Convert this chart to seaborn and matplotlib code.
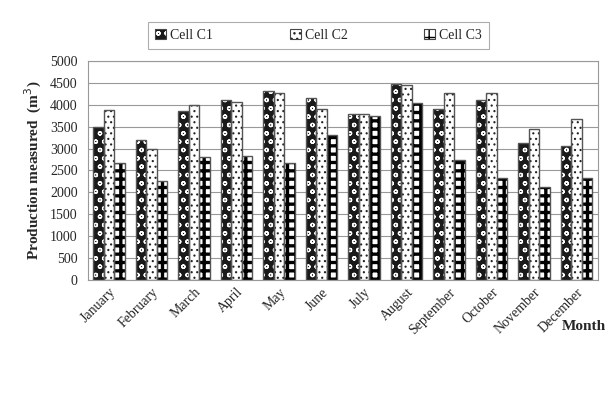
import pandas as pd
import seaborn as sns
import matplotlib.pyplot as plt
from matplotlib.patches import Patch, Rectangle
from matplotlib.legend_handler import HandlerTuple

# Data
months = ["January", "February", "March", "April", "May", "June", "July",
          "August", "September", "October", "November", "December"]
cell_c1 = [3500, 3200, 3850, 4120, 4320, 4150, 3790, 4480, 3900, 4120, 3130, 3060]
cell_c2 = [3870, 3000, 4000, 4060, 4260, 3900, 3790, 4460, 4260, 4260, 3440, 3680]
cell_c3 = [2680, 2250, 2800, 2840, 2680, 3300, 3740, 4050, 2740, 2320, 2130, 2320]
series = ["Cell C1", "Cell C2", "Cell C3"]

df = pd.DataFrame({
    "Month": months * 3,
    "Cell": [s for s in series for _ in months],
    "Value": cell_c1 + cell_c2 + cell_c3,
})

sns.set_style("white")
plt.rcParams['font.family'] = ['Liberation Serif', 'DejaVu Serif']
plt.rcParams['hatch.linewidth'] = 1.0

# face colour, hatch colour, hatch pattern, hatch line width per series
styles = {
    "Cell C1": ("#1a1a1a", "white", "oo", 0.9),
    "Cell C2": ("white", "#222222", "...", 0.8),
    "Cell C3": ("white", "black", "++", 2.4),
}


def style_patch(p, s):
    face, hcol, hatch, hlw = styles[s]
    p.set_facecolor(face)
    p.set_edgecolor(hcol)
    p.set_hatch(hatch)
    p.set_linewidth(0)
    if hasattr(p, "set_hatch_linewidth"):
        p.set_hatch_linewidth(hlw)


fig = plt.figure(figsize=(6.15, 3.96), dpi=100)
ax = fig.add_axes([0.143, 0.293, 0.829, 0.553])

sns.barplot(data=df, x="Month", y="Value", hue="Cell", order=months,
            hue_order=series, width=0.74, gap=0.0, legend=False, ax=ax)

n = len(months)
for i, s in enumerate(series):
    for p in ax.patches[i * n:(i + 1) * n]:
        style_patch(p, s)
        ax.add_patch(Rectangle((p.get_x(), 0), p.get_width(), p.get_height(),
                               fill=False, edgecolor="#555555", linewidth=1.0, zorder=3))

ax.set_ylim(0, 5000)
ax.set_yticks(range(0, 5001, 500))
ax.yaxis.grid(True, color="#999999", linewidth=0.8)
ax.set_axisbelow(True)
for sp in ax.spines.values():
    sp.set_color("#999999")
    sp.set_linewidth(0.8)

ax.set_xticks([x + 0.5 for x in range(-1, n)], minor=True)
ax.tick_params(axis="x", which="minor", length=4, color="#999999", direction="out")
ax.tick_params(axis="x", which="major", length=0, labelsize=10, pad=4)
ax.tick_params(axis="y", length=4, color="#999999", direction="out", labelsize=10)
ax.set_xlim(-0.5, n - 0.5)
plt.setp(ax.get_xticklabels(), rotation=45, ha="right", rotation_mode="anchor")
ax.set_xlabel("")
ax.set_ylabel("Production measured  (m$^3$)", fontsize=11, fontweight="bold")
fig.text(0.985, 0.175, "Month", ha="right", va="center", fontsize=11, fontweight="bold")

handles = []
for s in series:
    hp = Patch()
    style_patch(hp, s)
    handles.append((hp, Patch(facecolor="none", edgecolor="#444444", linewidth=0.8)))
leg = fig.legend(handles, series, loc="center", bbox_to_anchor=(0.518, 0.911),
                 ncol=3, frameon=True, fancybox=False, fontsize=10,
                 handler_map={tuple: HandlerTuple(ndivide=1, pad=0)},
                 handlelength=0.8, handleheight=0.8, columnspacing=5.5,
                 borderpad=0.5, handletextpad=0.3)
leg.get_frame().set_edgecolor("#999999")
leg.get_frame().set_linewidth(0.8)

fig.savefig("out.png", dpi=100)
